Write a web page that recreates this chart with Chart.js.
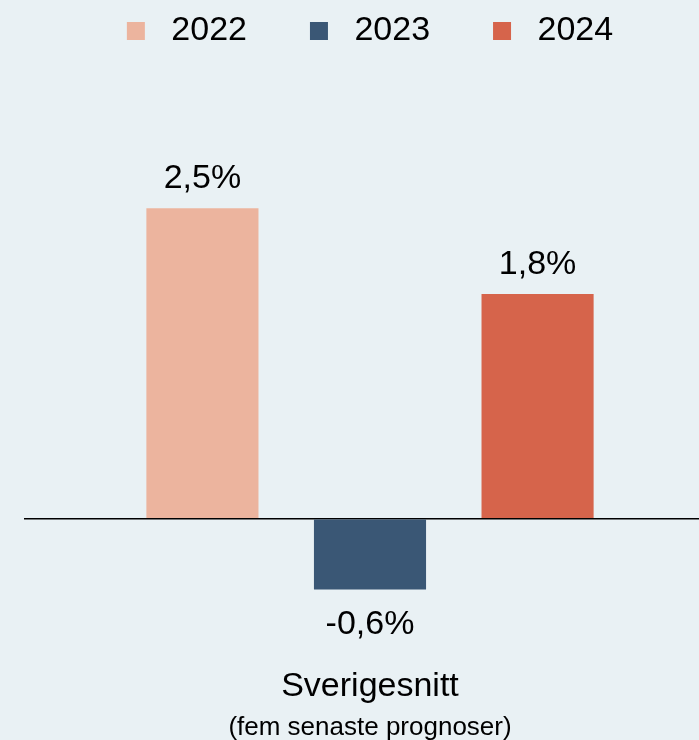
<!DOCTYPE html>
<html>
<head>
<meta charset="utf-8">
<script src="https://cdn.jsdelivr.net/npm/chart.js@4/dist/chart.umd.min.js"></script>
<style>
  html, body { margin: 0; padding: 0; background: #e9f1f4; }
  #wrap { width: 699px; height: 740px; position: relative; }
</style>
</head>
<body>
<div id="wrap"><canvas id="chart"></canvas></div>
<script>
// data
const categories = ['Sverigesnitt'];
const subtitle = '(fem senaste prognoser)';
const years = ['2022', '2023', '2024'];
const values = [2.5, -0.57, 1.81];
const colors = ['#ecb49e', '#3a5775', '#d6644b'];

const FONT = '"Liberation Sans", Arial, sans-serif';

// only the zero line is visible
const zeroOnly = (c) => (c.tick && c.tick.value === 0 ? '#000' : 'transparent');

// value labels above / below the bars
const valueLabels = {
  id: 'valueLabels',
  afterDatasetsDraw(chart) {
    const ctx = chart.ctx;
    ctx.save();
    ctx.font = '34px ' + FONT;
    ctx.fillStyle = '#000';
    ctx.textAlign = 'center';
    chart.data.datasets.forEach((ds, i) => {
      const bar = chart.getDatasetMeta(i).data[0];
      const v = ds.data[0];
      const txt = v.toFixed(1).replace('.', ',') + '%';
      if (v >= 0) {
        ctx.textBaseline = 'alphabetic';
        ctx.fillText(txt, bar.x, bar.y - 20);
      } else {
        ctx.textBaseline = 'top';
        ctx.fillText(txt, bar.x, bar.y + 18);
      }
    });
    ctx.restore();
  }
};

new Chart(document.getElementById('chart'), {
  type: 'bar',
  data: {
    labels: categories,
    datasets: years.map((y, i) => ({
      label: y,
      data: [values[i]],
      backgroundColor: colors[i],
      borderWidth: 0,
      barPercentage: 0.669,
      categoryPercentage: 0.764
    }))
  },
  options: {
    responsive: true,
    maintainAspectRatio: false,
    animation: false,
    layout: { padding: { left: 24, right: 0, top: 2, bottom: 0 } },
    plugins: {
      tooltip: { enabled: false },
      legend: {
        position: 'top',
        fullSize: false,
        labels: {
          font: { family: FONT, size: 34 },
          color: '#000',
          boxWidth: 18,
          boxHeight: 18,
          padding: 12,
          generateLabels(chart) {
            const items = Chart.defaults.plugins.legend.labels.generateLabels(chart);
            items.forEach((it, i) => {
              it.text = ' ' + it.text + (i < items.length - 1 ? '\u2003\u2002' : '');
              it.lineWidth = 0;
            });
            return items;
          }
        }
      }
    },
    scales: {
      x: {
        grid: { display: false },
        border: { display: false },
        ticks: { color: '#000', font: { family: FONT, size: 34 }, padding: 3 },
        title: {
          display: true,
          text: subtitle,
          color: '#000',
          font: { family: FONT, size: 26, lineHeight: 1.0 },
          padding: { top: 5, bottom: -1 }
        }
      },
      y: {
        min: -1.098,
        max: 3.71,
        z: 1,
        border: { display: false },
        ticks: { display: false },
        grid: {
          drawTicks: true,
          tickLength: 17,
          lineWidth: 1.5,
          color: zeroOnly,
          tickColor: zeroOnly
        }
      }
    }
  },
  plugins: [valueLabels]
});
</script>
</body>
</html>
